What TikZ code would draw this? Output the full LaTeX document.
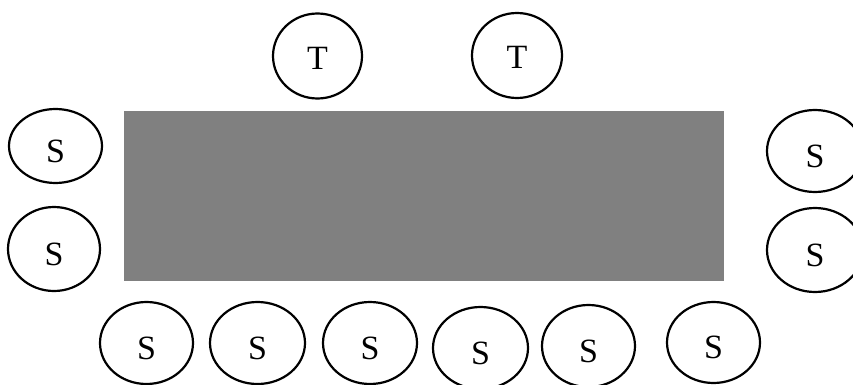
\documentclass[tikz,border=0pt]{standalone}
\usepackage{fontspec}
\setmainfont{Liberation Serif}
\usetikzlibrary{shapes.geometric}
\definecolor{boxgray}{RGB}{128,128,128}
\begin{document}
\begin{tikzpicture}[x=1pt,y=-1pt,
  seatshape/.style={ellipse,draw=black,line width=2.2pt,inner sep=0pt,
    minimum width=93pt,minimum height=84pt},
  seattext/.style={inner sep=0pt,yshift=-5pt,font=\fontsize{34}{36}\selectfont},
  seat/.style={seatshape,label={[seattext]center:#1}},
  tseat/.style={seatshape,label={[seattext,yshift=3pt]center:T}},
  tablebox/.style={fill=boxgray,inner sep=0pt,minimum width=600pt,minimum height=170pt}]
\useasboundingbox (0,0) rectangle (853,385);
\node[tablebox] (table) at (424,196) {};
\node[tseat,minimum width=89pt,minimum height=85pt] (t1) at (317.5,56) {};
\node[tseat,minimum width=90pt,minimum height=85pt] (t2) at (517,55.5) {};
\node[seat=S,minimum height=74pt] (l1) at (55.5,146) {};
\node[seat=S,minimum width=92pt] (l2) at (54,249) {};
\node[seat=S,minimum width=96pt,minimum height=82pt] (r1) at (815,151) {};
\node[seat=S,minimum width=96pt] (r2) at (815,250) {};
\node[seat=S,minimum height=82pt] (b1) at (146.5,343) {};
\node[seat=S,minimum width=95pt,minimum height=82pt] (b2) at (257.5,343) {};
\node[seat=S,minimum width=94pt,minimum height=82pt] (b3) at (370,343) {};
\node[seat=S,minimum width=95pt,minimum height=82pt] (b4) at (480.5,348) {};
\node[seat=S,minimum height=82pt] (b5) at (588.5,346) {};
\node[seat=S,minimum height=81pt] (b6) at (713.5,342.5) {};
\end{tikzpicture}
\end{document}
